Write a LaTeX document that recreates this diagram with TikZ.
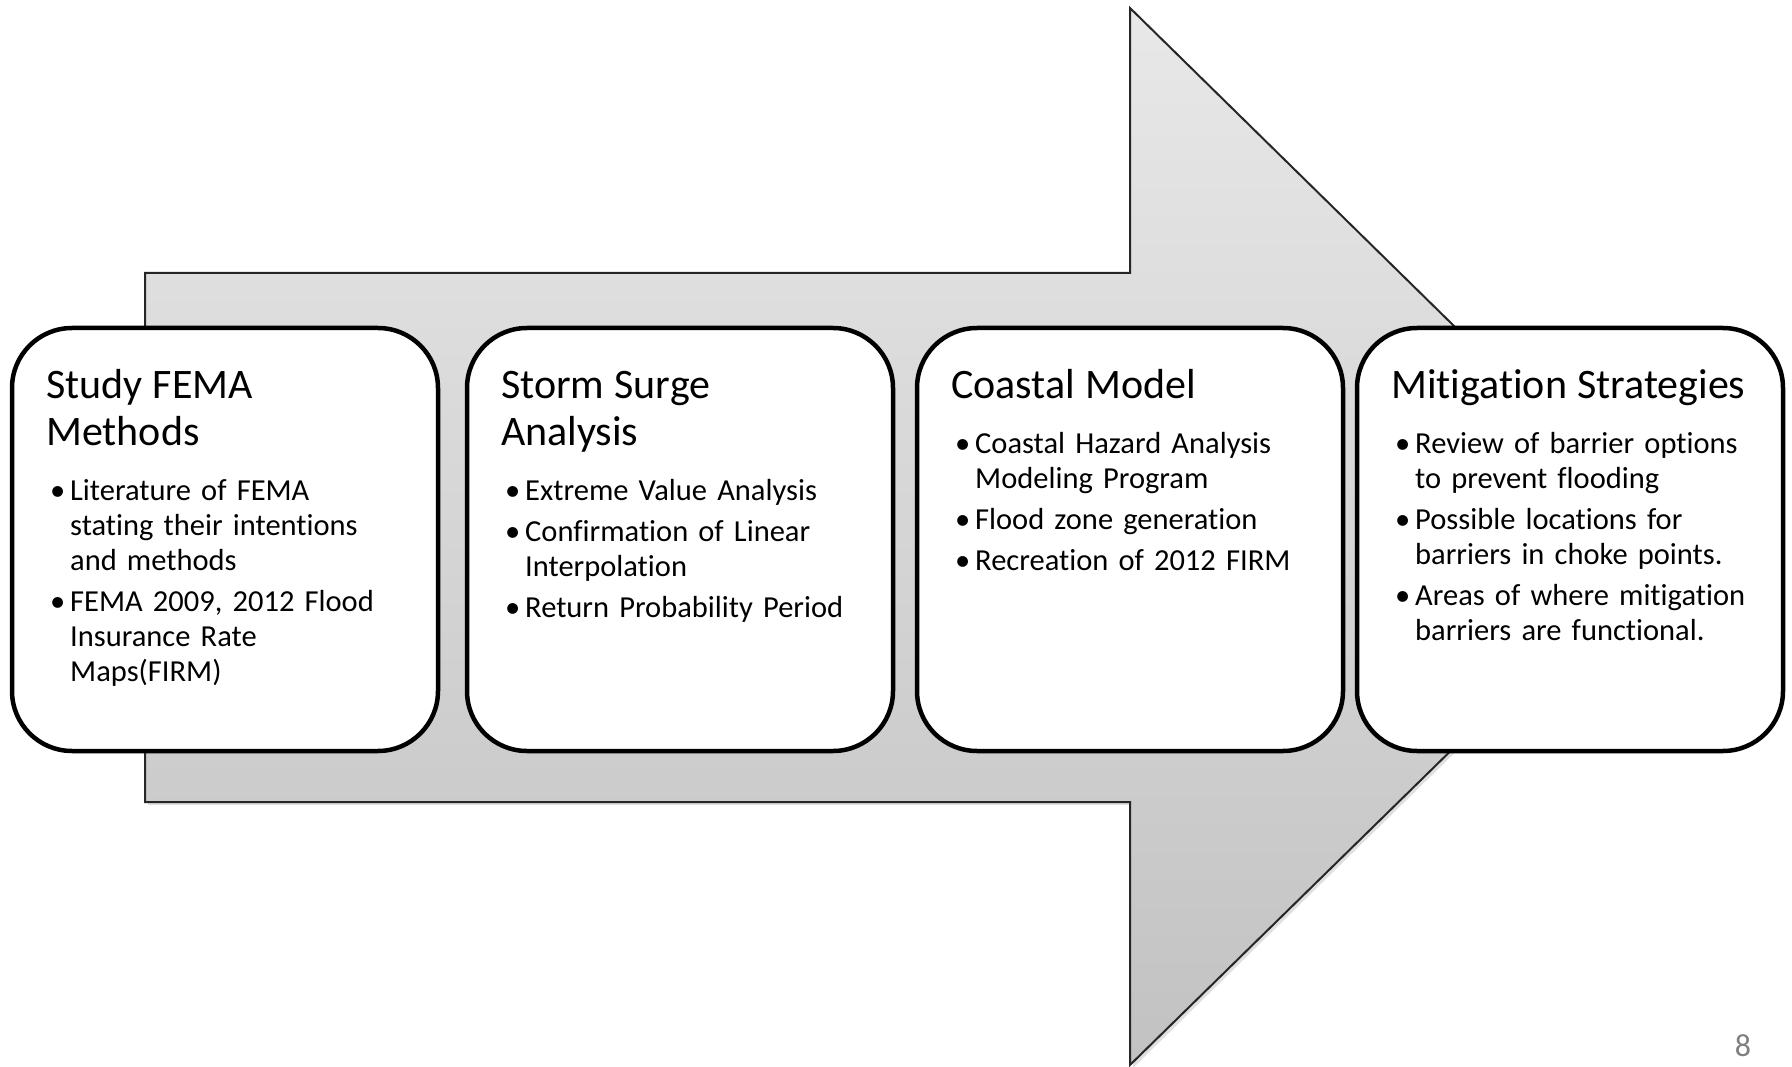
\documentclass[tikz,border=0pt]{standalone}
\usepackage{fontspec}
\setmainfont{Carlito}[Ligatures=NoCommon]
\usetikzlibrary{calc}

\tikzset{
  arrowbody/.style={draw=black!85, line width=2pt, line join=miter, top color=black!9, bottom color=black!24, shading angle=0},
  arrowshadow/.style={fill=black!35, opacity=.35},
  stage/.style={draw=black, line width=4.5pt, fill=white, rounded corners=60pt, outer sep=0pt,
    minimum width=426pt, minimum height=423pt, anchor=north west},
  stagetext/.style={anchor=north west, inner sep=0pt, text width=410pt, align=left,
    font=\fontsize{30.5}{35}\selectfont\setlength{\parskip}{6pt}},
}
\newcommand{\stagetitle}[1]{{\fontsize{42}{47}\selectfont\rule{0pt}{35pt}#1\par}\vspace{14pt}}
\newcommand{\bitem}{\par\noindent\hangindent=24pt\hangafter=1\makebox[24pt][l]{\hspace{4pt}\textbullet}}

\begin{document}
\begin{tikzpicture}[x=1pt,y=-1pt]
\useasboundingbox (0,0) rectangle (1792,1067);

\fill[arrowshadow] (148,276) -- (1133,276) -- (1133,11) -- (1672,540) -- (1133,1068) -- (1133,805) -- (148,805) -- cycle;
\path[arrowbody] (145,273) -- (1130,273) -- (1130,8) -- (1669,537) -- (1130,1065) -- (1130,802) -- (145,802) -- cycle;

\node[stage] (fema) at (12,328) {};
\node[stage] (surge) at (467,328) {};
\node[stage] (coast) at (917,328) {};
\node[stage] (mitig) at (1357,328) {};

\node[stagetext] (fematext) at ($(fema.north west)+(34,35)$) {%
  \stagetitle{Study FEMA\newline Methods}%
  \bitem Literature of FEMA\newline stating their intentions\newline and methods
  \bitem FEMA 2009, 2012 Flood\newline Insurance Rate\newline Maps(FIRM)\par};
\node[stagetext] (surgetext) at ($(surge.north west)+(34,35)$) {%
  \stagetitle{Storm Surge\newline Analysis}%
  \bitem Extreme Value Analysis
  \bitem Confirmation of Linear\newline Interpolation
  \bitem Return Probability Period\par};
\node[stagetext] (coasttext) at ($(coast.north west)+(34,35)$) {%
  \stagetitle{Coastal Model}%
  \bitem Coastal Hazard Analysis\newline Modeling Program
  \bitem Flood zone generation
  \bitem Recreation of 2012 FIRM\par};
\node[stagetext] (mitigtext) at ($(mitig.north west)+(34,35)$) {%
  \stagetitle{Mitigation Strategies}%
  \bitem Review of barrier options\newline to prevent flooding
  \bitem Possible locations for\newline barriers in choke points.
  \bitem Areas of where mitigation\newline barriers are functional.\par};

\node[text=black!50, font=\fontsize{32}{36}\selectfont] (pagenum) at (1743,1046) {8};
\end{tikzpicture}
\end{document}
